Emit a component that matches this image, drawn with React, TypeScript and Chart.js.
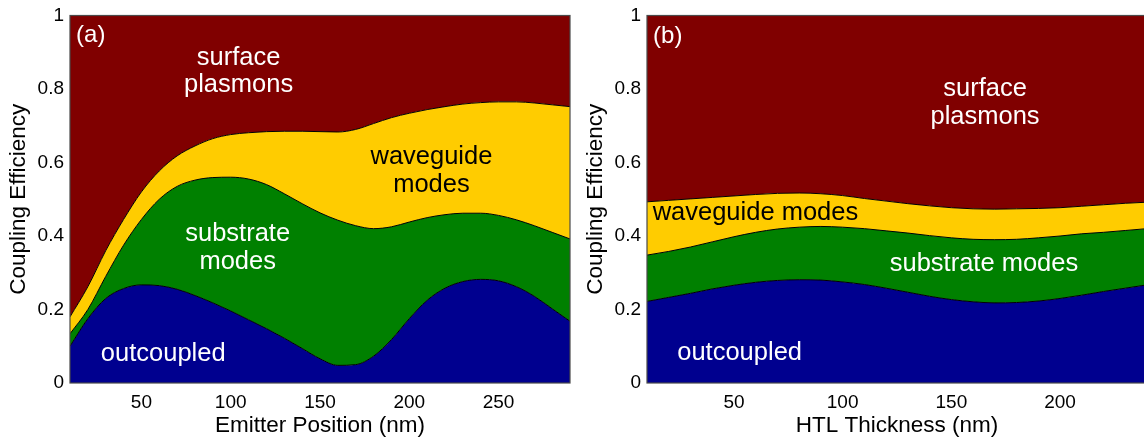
import React, { useEffect, useRef } from 'react';
import { Chart, registerables } from 'chart.js';

Chart.register(...registerables);

// ---------- Data (cumulative boundaries of the stacked areas) ----------
const emitterPosition = [10, 20, 30, 40, 50, 60, 70, 80, 90, 100, 110, 120, 130, 140, 150, 160, 170, 180, 190, 200, 210, 220, 230, 240, 250, 260, 270, 280, 290];
const outcoupledA = [0.100, 0.175, 0.230, 0.257, 0.267, 0.265, 0.255, 0.238, 0.218, 0.196, 0.172, 0.148, 0.122, 0.094, 0.066, 0.048, 0.050, 0.073, 0.118, 0.175, 0.225, 0.258, 0.276, 0.282, 0.278, 0.262, 0.236, 0.202, 0.168];
const substrateTopA = [0.134, 0.200, 0.290, 0.375, 0.445, 0.500, 0.535, 0.552, 0.559, 0.560, 0.555, 0.540, 0.515, 0.488, 0.463, 0.443, 0.428, 0.420, 0.425, 0.438, 0.450, 0.458, 0.462, 0.462, 0.456, 0.444, 0.428, 0.410, 0.392];
const waveguideTopA = [0.180, 0.262, 0.360, 0.445, 0.520, 0.577, 0.618, 0.645, 0.665, 0.676, 0.681, 0.684, 0.685, 0.685, 0.684, 0.683, 0.690, 0.706, 0.722, 0.734, 0.744, 0.752, 0.759, 0.763, 0.765, 0.765, 0.762, 0.757, 0.752];

const htlThickness = [10, 20, 30, 40, 50, 60, 70, 80, 90, 100, 110, 120, 130, 140, 150, 160, 170, 180, 190, 200, 210, 220, 230, 240];
const outcoupledB = [0.222, 0.233, 0.244, 0.256, 0.266, 0.274, 0.279, 0.281, 0.280, 0.275, 0.268, 0.258, 0.247, 0.236, 0.227, 0.221, 0.218, 0.219, 0.223, 0.230, 0.239, 0.249, 0.258, 0.267];
const substrateTopB = [0.348, 0.358, 0.370, 0.384, 0.398, 0.410, 0.419, 0.424, 0.426, 0.424, 0.420, 0.414, 0.408, 0.401, 0.395, 0.391, 0.390, 0.391, 0.395, 0.400, 0.406, 0.410, 0.415, 0.420];
const waveguideTopB = [0.493, 0.497, 0.501, 0.505, 0.509, 0.513, 0.516, 0.517, 0.515, 0.510, 0.502, 0.495, 0.488, 0.482, 0.477, 0.474, 0.473, 0.474, 0.475, 0.477, 0.481, 0.485, 0.489, 0.492];

const xTicksA = [50, 100, 150, 200, 250];
const xTicksB = [50, 100, 150, 200];
const yTicks = [0, 0.2, 0.4, 0.6, 0.8, 1];
const yTickLabels = ['0', '0.2', '0.4', '0.6', '0.8', '1'];

type Note = { text: string; x: number; y: number; dark?: boolean; left?: boolean; mid?: boolean; small?: boolean };

const notesA: Note[] = [
  { text: '(a)', x: 13.4, y: 0.946, left: true, mid: true, small: true },
  { text: 'surface', x: 104.4, y: 0.866 },
  { text: 'plasmons', x: 104.4, y: 0.793 },
  { text: 'waveguide', x: 212.4, y: 0.597, dark: true },
  { text: 'modes', x: 212.4, y: 0.519, dark: true },
  { text: 'substrate', x: 103.9, y: 0.387 },
  { text: 'modes', x: 103.9, y: 0.309 },
  { text: 'outcoupled', x: 62.2, y: 0.060 },
];

const notesB: Note[] = [
  { text: '(b)', x: 12.8, y: 0.944, left: true, mid: true, small: true },
  { text: 'surface', x: 165.5, y: 0.782 },
  { text: 'plasmons', x: 165.5, y: 0.705 },
  { text: 'waveguide modes', x: 12.6, y: 0.444, dark: true, left: true },
  { text: 'substrate modes', x: 165, y: 0.306 },
  { text: 'outcoupled', x: 52.6, y: 0.062 },
];

const FONT = '"Liberation Sans", Arial, Helvetica, sans-serif';
const COLORS = { red: '#800000', yellow: '#FFCC00', green: '#008000', blue: '#00008F' };

type PanelProps = {
  left: number;
  xs: number[];
  blue: number[];
  green: number[];
  yellow: number[];
  xMin: number;
  xMax: number;
  xTicks: number[];
  xTitle: string;
  notes: Note[];
};

function Panel({ left, xs, blue, green, yellow, xMin, xMax, xTicks, xTitle, notes }: PanelProps) {
  const ref = useRef<HTMLCanvasElement>(null);
  useEffect(() => {
    const pts = (arr: number[]) => xs.map((x, i) => ({ x, y: arr[i] }));
    const common = {
      pointRadius: 0,
      borderColor: '#000',
      borderWidth: 1,
      cubicInterpolationMode: 'monotone' as const,
    };
    const notePlugin = {
      id: 'notes',
      afterDatasetsDraw(chart: any) {
        const ctx = chart.ctx;
        const xs_ = chart.scales.x;
        const ys_ = chart.scales.y;
        ctx.save();
        for (const n of notes) {
          ctx.font = `${n.small ? 24 : 25.5}px ${FONT}`;
          ctx.fillStyle = n.dark ? '#000' : '#fff';
          ctx.textAlign = n.left ? 'left' : 'center';
          ctx.textBaseline = n.mid ? 'middle' : 'alphabetic';
          ctx.fillText(n.text, xs_.getPixelForValue(n.x), ys_.getPixelForValue(n.y));
        }
        ctx.restore();
      },
      afterDraw(chart: any) {
        const { left: l, top: t, right: r, bottom: b } = chart.chartArea;
        const ctx = chart.ctx;
        ctx.save();
        ctx.strokeStyle = '#4a4a4a';
        ctx.lineWidth = 1.2;
        ctx.strokeRect(l, t, r - l, b - t);
        ctx.restore();
      },
    };
    const chart = new Chart(ref.current as HTMLCanvasElement, {
      type: 'line',
      data: {
        datasets: [
          { ...common, label: 'outcoupled', data: pts(blue), backgroundColor: COLORS.blue, fill: 'origin' },
          { ...common, label: 'substrate modes', data: pts(green), backgroundColor: COLORS.green, fill: '-1' },
          { ...common, label: 'waveguide modes', data: pts(yellow), backgroundColor: COLORS.yellow, fill: '-1' },
          { ...common, label: 'surface plasmons', data: pts(yellow), backgroundColor: COLORS.red, fill: 'end', borderWidth: 0 },
        ],
      } as any,
      options: {
        responsive: false,
        animation: false,
        devicePixelRatio: 1,
        events: [],
        layout: { padding: { left: 0, right: 10, top: 11, bottom: 0 } },
        plugins: { legend: { display: false }, tooltip: { enabled: false } },
        scales: {
          x: {
            type: 'linear',
            min: xMin,
            max: xMax,
            grid: { display: false, drawTicks: false },
            border: { display: false },
            afterBuildTicks: (s: any) => { s.ticks = xTicks.map((v) => ({ value: v })); },
            afterFit: (s: any) => { s.height = 58; },
            ticks: { padding: 8, color: '#000', font: { family: FONT, size: 19 }, callback: (v: any) => String(v) },
            title: { display: true, text: xTitle, color: '#000', font: { family: FONT, size: 22.5 }, padding: { top: 0, bottom: 2 } },
          },
          y: {
            type: 'linear',
            min: 0,
            max: 1,
            grid: { display: false, drawTicks: false },
            border: { display: false },
            afterBuildTicks: (s: any) => { s.ticks = yTicks.map((v) => ({ value: v })); },
            afterFit: (s: any) => { s.width = 70; },
            ticks: { padding: 6, color: '#000', font: { family: FONT, size: 19, lineHeight: 1 }, callback: (_v: any, i: number) => yTickLabels[i] },
            title: { display: true, text: 'Coupling Efficiency', color: '#000', font: { family: FONT, size: 22.5 }, padding: { top: 5, bottom: 0 } },
          },
        },
      } as any,
      plugins: [notePlugin],
    });
    return () => chart.destroy();
  }, []);
  return (
    <canvas
      ref={ref}
      width={580}
      height={441}
      style={{ position: 'absolute', left, top: 0, width: 580, height: 441 }}
    />
  );
}

export default function App() {
  return (
    <div style={{ position: 'fixed', left: 0, top: 0, width: 1144, height: 441, overflow: 'hidden', background: '#fff' }}>
      <Panel left={0} xs={emitterPosition} blue={outcoupledA} green={substrateTopA} yellow={waveguideTopA}
        xMin={10} xMax={290} xTicks={xTicksA} xTitle="Emitter Position (nm)" notes={notesA} />
      <Panel left={577} xs={htlThickness} blue={outcoupledB} green={substrateTopB} yellow={waveguideTopB}
        xMin={10} xMax={240} xTicks={xTicksB} xTitle="HTL Thickness (nm)" notes={notesB} />
    </div>
  );
}
